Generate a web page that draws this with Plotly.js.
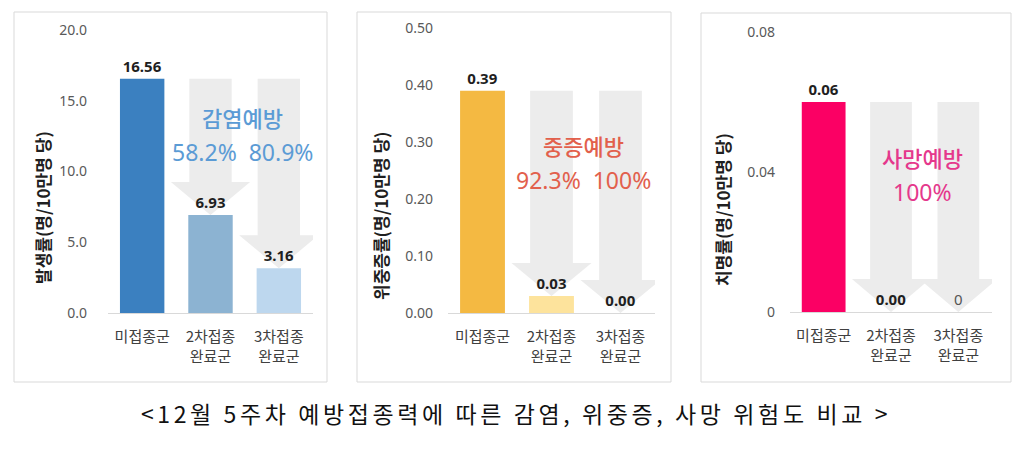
<!DOCTYPE html>
<html>
<head>
<meta charset="utf-8">
<script src="https://cdn.plot.ly/plotly-3.0.1.min.js"></script>
<style>
  html, body { margin: 0; padding: 0; background: #fff; }
  #chart { width: 1024px; height: 453px; }
  #chart .gtitle { letter-spacing: 3.6px; }
</style>
</head>
<body>
<div id="chart"></div>
<script>
// ---- data ----
const categories = ["미접종군", "2차접종<br>완료군", "3차접종<br>완료군"];

const infectionRates = [16.56, 6.93, 3.16];
const infectionLabels = ["16.56", "6.93", "3.16"];
const infectionTicks = [0, 5, 10, 15, 20];
const infectionTickText = ["0.0", "5.0", "10.0", "15.0", "20.0"];
const infectionTitle = "발생률(명/10만명 당)";
const infectionHeadline = "감염예방";
const infectionPrevention = "58.2%  80.9%";

const severeRates = [0.39, 0.03, 0.00];
const severeLabels = ["0.39", "0.03", "0.00"];
const severeTicks = [0, 0.1, 0.2, 0.3, 0.4, 0.5];
const severeTickText = ["0.00", "0.10", "0.20", "0.30", "0.40", "0.50"];
const severeTitle = "위중증률(명/10만명 당)";
const severeHeadline = "중증예방";
const severePrevention = "92.3%  100%";

const deathRates = [0.06, 0.00, 0];
const deathLabels = ["0.06", "0.00", "0"];
const deathTicks = [0, 0.04, 0.08];
const deathTickText = ["0", "0.04", "0.08"];
const deathTitle = "치명률(명/10만명 당)";
const deathHeadline = "사망예방";
const deathPrevention = "100%";

const caption = "<12월 5주차 예방접종력에 따른 감염, 위중증, 사망 위험도 비교 >";

// ---- layout helpers ----
const W = 1024, H = 453;
const px = v => v / W;
const py = v => 1 - v / H;
const KR = "Noto Sans CJK KR, Noto Sans, sans-serif";

const panels = [
  { vals: infectionRates, labels: infectionLabels, ticks: infectionTicks, tickText: infectionTickText,
    title: infectionTitle, head: infectionHeadline, prev: infectionPrevention,
    colors: ["#3b80c0", "#8cb3d2", "#bdd7ee"], accent: "#5b9bd5",
    x0: 108, x1: 313, yTop: 30, yBot: 313, range: [0, 20], standoff: 20,
    titleX: 42, titleY: 208, box: [14, 12, 327, 382], headY: 117, prevY: 152, labelBold: [true, true, true] },
  { vals: severeRates, labels: severeLabels, ticks: severeTicks, tickText: severeTickText,
    title: severeTitle, head: severeHeadline, prev: severePrevention,
    colors: ["#f4b942", "#fde39c", "#fde39c"], accent: "#e2604c",
    x0: 448, x1: 655, yTop: 28, yBot: 313, range: [0, 0.5], standoff: 14,
    titleX: 380, titleY: 216, box: [357, 12, 671, 382], headY: 145, prevY: 180, labelBold: [true, true, true] },
  { vals: deathRates, labels: deathLabels, ticks: deathTicks, tickText: deathTickText,
    title: deathTitle, head: deathHeadline, prev: deathPrevention,
    colors: ["#fb0064", "#fb0064", "#fb0064"], accent: "#e5388c",
    x0: 790, x1: 992, yTop: 32, yBot: 312, range: [0, 0.08], standoff: 14,
    titleX: 723, titleY: 210, box: [701, 13, 1011, 382], headY: 157, prevY: 192, labelBold: [true, true, false] }
];

const traces = [];
const layout = {
  width: W, height: H,
  margin: { l: 0, r: 0, t: 0, b: 0 },
  paper_bgcolor: "#ffffff", plot_bgcolor: "rgba(0,0,0,0)",
  showlegend: false,
  shapes: [], annotations: [],
  font: { family: KR },
  title: {
    text: caption, xref: "paper", yref: "paper",
    x: px(516), xanchor: "center", y: py(415), yanchor: "middle",
    font: { family: KR, size: 23, color: "#111111" }
  }
};

const xIdx = categories.map((_, i) => i);
const barWidth = 0.65;
const shaftWidth = 0.62;
const headWidth = 1.16;
const headPx = 33;

panels.forEach((p, k) => {
  const n = k === 0 ? "" : String(k + 1);
  const xa = "x" + n, ya = "y" + n;
  traces.push({
    type: "bar", x: xIdx, y: p.vals, xaxis: xa, yaxis: ya,
    width: barWidth,
    marker: { color: p.colors, line: { width: 0 } },
    text: p.labels.map((t, i) => p.labelBold[i] ? "<b>" + t + "</b>" : t),
    textposition: "outside", cliponaxis: false,
    textfont: { family: "Noto Sans, " + KR, size: 15, color: p.labelBold.map(b => b ? "#1f1f1f" : "#555555") },
    hoverinfo: "none"
  });
  layout["xaxis" + n] = {
    domain: [px(p.x0), px(p.x1)], anchor: ya, range: [-0.5, 2.5],
    tickmode: "array", tickvals: xIdx, ticktext: categories,
    showline: true, linecolor: "#d9d9d9", linewidth: 1,
    ticks: "", showgrid: false, zeroline: false, fixedrange: true,
    tickfont: { family: KR, size: 15, color: "#404040" },
    ticklabelstandoff: 10
  };
  layout["yaxis" + n] = {
    domain: [py(p.yBot), py(p.yTop)], anchor: xa, range: p.range,
    tickmode: "array", tickvals: p.ticks, ticktext: p.tickText,
    showline: false, showgrid: false, zeroline: false, ticks: "", fixedrange: true,
    tickfont: { family: "Noto Sans, " + KR, size: 14, color: "#595959" },
    ticklabelstandoff: p.standoff
  };
  // panel border
  layout.shapes.push({
    type: "rect", xref: "paper", yref: "paper", layer: "below",
    x0: px(p.box[0]), x1: px(p.box[2]), y0: py(p.box[3]), y1: py(p.box[1]),
    line: { color: "#d9d9d9", width: 1 }, fillcolor: "rgba(0,0,0,0)"
  });
  // down arrows from reference bar to each vaccinated bar
  const plotH = p.yBot - p.yTop;
  const headH = headPx / plotH * (p.range[1] - p.range[0]);
  const top = p.vals[0];
  for (let i = 1; i < p.vals.length; i++) {
    const tip = p.vals[i];
    const hb = tip + headH;
    const path = [
      "M", i - shaftWidth / 2, top,
      "L", i + shaftWidth / 2, top,
      "L", i + shaftWidth / 2, hb,
      "L", i + headWidth / 2, hb,
      "L", i, tip,
      "L", i - headWidth / 2, hb,
      "L", i - shaftWidth / 2, hb, "Z"
    ].join(" ");
    layout.shapes.push({
      type: "path", xref: xa, yref: ya, layer: "below", path: path,
      fillcolor: "#ececec", line: { width: 0 }
    });
  }
  // y-axis title
  layout.annotations.push({
    xref: "paper", yref: "paper", x: px(p.titleX), y: py(p.titleY),
    text: "<b>" + p.title + "</b>", textangle: -90, showarrow: false,
    font: { family: KR, size: 17, color: "#1f1f1f" },
    xanchor: "center", yanchor: "middle"
  });
  // prevention headline + percentages
  layout.annotations.push({
    xref: xa, yref: "paper", x: 1.47, y: py(p.headY),
    text: p.head, showarrow: false,
    font: { family: KR, size: 22, color: p.accent, weight: 500 },
    xanchor: "center", yanchor: "middle"
  });
  layout.annotations.push({
    xref: xa, yref: "paper", x: 1.47, y: py(p.prevY),
    text: p.prev, showarrow: false,
    font: { family: "Noto Sans, " + KR, size: 23, color: p.accent },
    xanchor: "center", yanchor: "middle"
  });
});

Plotly.newPlot("chart", traces, layout, { displayModeBar: false, staticPlot: true });
</script>
</body>
</html>
